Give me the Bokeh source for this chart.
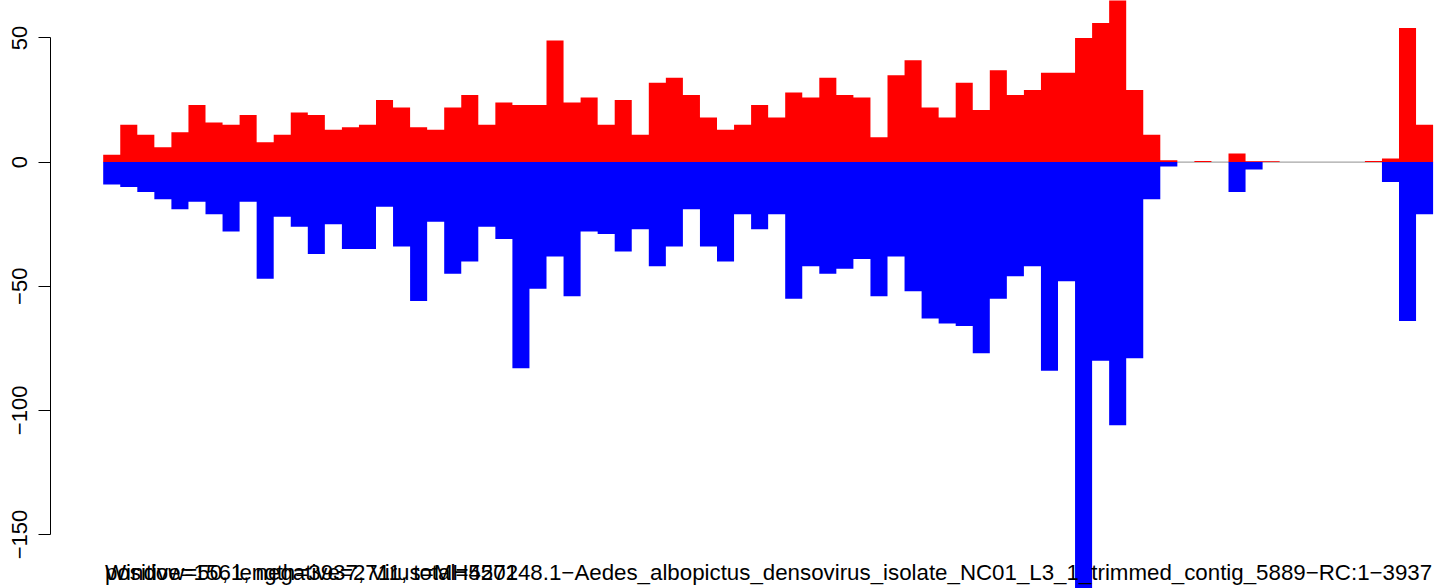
from bokeh.plotting import figure
from bokeh.models import Range1d, FixedTicker
from bokeh.core.properties import value
from bokeh.embed import file_html
from bokeh.resources import INLINE

# ---- data ----
positive = [3, 15, 11, 6, 12, 23, 16, 15, 19, 8,
            11, 20, 19, 13, 14, 15, 25, 22, 14, 13,
            22, 27, 15, 24, 23, 23, 49, 24, 26, 15,
            25, 11, 32, 34, 27, 18, 13, 15, 23, 18,
            28, 26, 34, 27, 26, 10, 35, 41, 22, 18,
            32, 21, 37, 27, 29, 36, 36, 50, 56, 80,
            29, 11, 0.7, 0, 0.4, 0, 3.5, 0.3, 0.3, 0,
            0, 0, 0, 0, 0.4, 1.5, 54, 15]
negative = [-9, -10, -12, -15, -19, -16, -21, -28, -16, -47,
            -22, -26, -37, -25, -35, -35, -18, -34, -56, -24,
            -45, -40, -26, -31, -83, -51, -38, -54, -28, -29,
            -36, -27, -42, -34, -19, -34, -40, -21, -27, -21,
            -55, -42, -45, -43, -39, -54, -38, -52, -63, -65,
            -66, -77, -55, -46, -42, -84, -48, -175, -80, -106,
            -79, -15, -1.8, 0, 0, 0, -12, -3, 0, 0,
            0, 0, 0, 0, 0, -8, -64, -21]
y_ticks = [-150, -100, -50, 0, 50]
y_tick_labels = ["\u2212150", "\u2212100", "\u221250", "0", "50"]
stats_text = "positive=1561, negative=2711, total=4272"
title_text = ("Window=50, length=3937, Virus=MH550148.1\u2212Aedes_albopictus_densovirus_isolate_"
              "NC01_L3_1_trimmed_contig_5889\u2212RC:1\u22123937")

n = len(positive)
edges = list(range(n + 1))
pos_ext = positive + [positive[-1]]
neg_ext = negative + [negative[-1]]
zeros = [0] * (n + 1)

# ---- layout (pixels) ----
W, H = 1436, 588
frame_left = 50
bar0_px = 102.7
bar_px = 17.05
zero_px = 161.6
unit_px = 2.4825

x_start = -(bar0_px - frame_left) / bar_px
x_end = (W - bar0_px) / bar_px
y_end = zero_px / unit_px
y_start = -(H - zero_px) / unit_px

p = figure(width=W, height=H, output_backend="svg", toolbar_location=None,
           x_range=Range1d(x_start, x_end), y_range=Range1d(y_start, y_end),
           x_axis_location=None, y_axis_location="left",
           min_border_left=frame_left, min_border_right=0,
           min_border_top=0, min_border_bottom=0)
p.styles = {"position": "absolute", "left": "0px", "top": "0px"}
p.grid.visible = False
p.outline_line_color = None
p.background_fill_color = "white"
p.border_fill_color = "white"

ax = p.yaxis[0]
ax.ticker = FixedTicker(ticks=y_ticks)
ax.bounds = (min(y_ticks), max(y_ticks))
ax.major_label_overrides = {t: l for t, l in zip(y_ticks, y_tick_labels)}
ax.major_label_orientation = "vertical"
ax.major_label_text_font = "Liberation Sans"
ax.major_label_text_font_size = "22px"
ax.major_label_text_color = "black"
ax.major_label_standoff = 11
ax.major_tick_in = 0
ax.major_tick_out = 12
ax.minor_tick_line_color = None
ax.axis_line_color = "black"
ax.major_tick_line_color = "black"

p.line(x=edges, y=zeros, line_color="#A6A6A6", line_width=1.3)
p.varea_step(x=edges, y1=zeros, y2=pos_ext, step_mode="after", fill_color="#FF0000")
p.varea_step(x=edges, y1=zeros, y2=neg_ext, step_mode="after", fill_color="#0000FF")

text_x = (104.5 - bar0_px) / bar_px
text_y = -(572 - zero_px) / unit_px
for t in [stats_text, title_text]:
    p.text(x=[text_x], y=[text_y], text=[t], text_font=value("Liberation Sans"),
           text_font_size="22.3px", text_align="left", text_baseline="alphabetic",
           text_color="black")

open("out.html", "w").write(file_html(p, INLINE))
